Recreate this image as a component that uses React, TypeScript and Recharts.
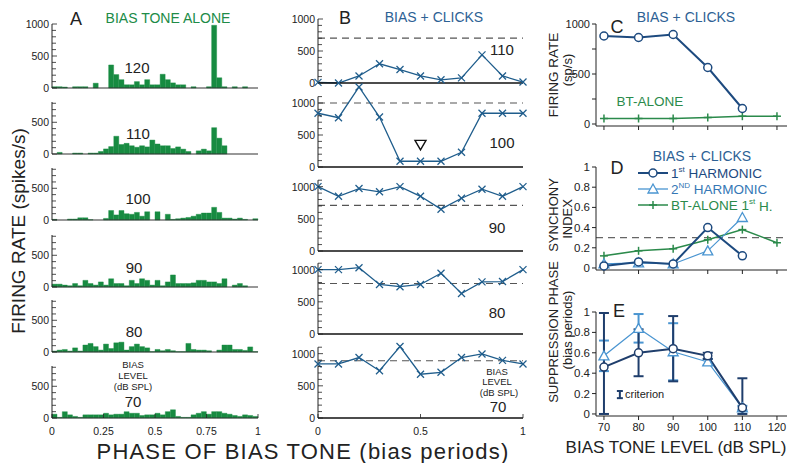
import React from 'react';
import {
  BarChart,
  Bar,
  ComposedChart,
  Line,
  Scatter,
  XAxis,
  YAxis,
  ReferenceLine,
  ReferenceDot,
  ErrorBar,
} from 'recharts';

const FONT = '"Liberation Sans", Arial, Helvetica, sans-serif';
const INK = '#222';
const GREEN = '#178b41';
const GREEN_TEXT = '#208b47';
const B_LINE = '#1f5d8c';
const B_TITLE = '#2c6194';
const DARK = '#1d4a7f';
const LIGHT = '#4a95d1';
const BT_GREEN = '#2b8a4b';
const NAVY = '#1f3e6c';

const PAD = 10;
const BOT = 8;
const PX = 0.064; // px per spike/s in panels A and B

// ---- A: bias tone alone, period histograms (40 bins)
const A_120 = [20, 20, 15, 0, 20, 20, 20, 0, 75, 0, 0, 360, 210, 130, 50, 50, 100, 50, 130, 50, 50, 215, 130, 80, 50, 50, 0, 20, 0, 0, 20, 980, 160, 20, 0, 20, 0, 20, 0, 0];
const A_110 = [0, 25, 0, 0, 15, 15, 0, 15, 15, 40, 80, 117, 280, 150, 168, 130, 107, 130, 112, 220, 158, 130, 130, 87, 112, 77, 40, 0, 50, 77, 50, 415, 250, 130, 0, 0, 0, 0, 0, 0];
const A_100 = [10, 0, 0, 15, 15, 35, 35, 5, 0, 0, 25, 150, 80, 150, 100, 90, 120, 60, 130, 0, 130, 0, 90, 10, 20, 30, 40, 60, 90, 110, 110, 200, 120, 30, 30, 15, 30, 10, 0, 20];
const A_90 = [45, 45, 30, 20, 55, 20, 105, 55, 30, 80, 30, 130, 55, 55, 20, 105, 55, 130, 105, 30, 105, 20, 80, 190, 55, 55, 55, 65, 105, 105, 80, 80, 55, 130, 0, 30, 55, 20, 0, 0];
const A_80 = [15, 30, 40, 15, 65, 15, 110, 135, 85, 30, 125, 55, 145, 155, 30, 85, 125, 85, 65, 5, 40, 20, 40, 20, 5, 5, 135, 40, 30, 30, 20, 0, 30, 110, 110, 40, 40, 25, 80, 5];
const A_70 = [60, 10, 100, 50, 25, 10, 50, 50, 50, 50, 75, 50, 60, 60, 100, 75, 75, 40, 50, 50, 75, 50, 100, 130, 25, 10, 10, 50, 75, 100, 60, 100, 100, 75, 60, 40, 25, 50, 40, 25];
const PHASE_BINS = A_120.map((_, i) => (i + 0.5) / 40);
const A_PHASE_TICKS = [0, 0.25, 0.5, 0.75, 1];
const TICKS_800 = [0, 100, 200, 300, 400, 500, 600, 700, 800];
const TICKS_1000 = [0, 100, 200, 300, 400, 500, 600, 700, 800, 900, 1000];
const TICKS_1100 = [0, 100, 200, 300, 400, 500, 600, 700, 800, 900, 1000, 1100];

// ---- B: bias + clicks, rate vs click phase
const B_PHASE = [0, 0.1, 0.2, 0.3, 0.4, 0.5, 0.6, 0.7, 0.8, 0.9, 1];
const B_PHASE_TICKS = [0, 0.5, 1];
const B_110 = [10, 0, 110, 300, 210, 110, 50, 80, 440, 110, 15];
const B_100 = [840, 770, 1250, 780, 90, 90, 90, 230, 840, 840, 840];
const B_90 = [1000, 850, 970, 920, 1000, 850, 650, 820, 960, 850, 1000];
const B_80 = [1000, 1000, 1030, 770, 735, 770, 945, 630, 810, 815, 1000];
const B_70 = [840, 840, 940, 735, 1110, 680, 710, 940, 995, 895, 840];
// clicks-alone reference rates (dashed lines), 110..70
const B_REF = [700, 1000, 710, 785, 890];

// ---- C/D/E: vs bias tone level
const LEVELS = [70, 80, 90, 100, 110, 120];
const LEVEL_TICKS = [70, 80, 90, 100, 110, 120];
const X_DOMAIN = [67.7, 122.9];
const C_CLICKS = [880, 865, 895, 565, 155, null];
const C_BT = [55, 55, 55, 65, 78, 78];
const D_H1 = [0.02, 0.06, 0.04, 0.4, 0.12, null];
const D_H2 = [0.04, 0.05, 0.04, 0.17, 0.5, null];
const D_BT = [0.12, 0.17, 0.19, 0.28, 0.38, 0.25];
const D_CRIT = 0.3;
const E_LEVELS = [70, 80, 90, 100, 110];
const E_H1 = [0.46, 0.6, 0.64, 0.57, 0.06];
const E_H1_ERR = [[0.46, 0.53], [0.23, 0.23], [0.32, 0.32], [0.03, 0.03], [0.06, 0.29]];
const E_H2 = [0.57, 0.84, 0.61, 0.51, 0.06];
const E_H2_ERR = [[0.15, 0.15], [0.14, 0.14], [0.28, 0.28], [0.03, 0.03], [0.02, 0.02]];
const E_CRIT = [{ level: 74.6, value: 0.19, err: 0.035 }];
const UNIT_TICKS = [0, 0.2, 0.4, 0.6, 0.8, 1];

// ticks drawn inside the axis, labels every 500
const RateTick = ({ x, y, payload }: any) => {
  const v = payload.value;
  const major = v % 500 === 0;
  return (
    <g>
      <line x1={x} x2={x + (major ? 5 : 4)} y1={y} y2={y} stroke={INK} strokeWidth={0.8} />
      {major && (
        <text x={x - 3} y={y + 4} textAnchor="end" fontSize={10.5} fill={INK}>
          {v}
        </text>
      )}
    </g>
  );
};

const PhaseTick = ({ x, y, payload }: any) => (
  <g>
    <line x1={x} x2={x} y1={y} y2={y - 4} stroke={INK} strokeWidth={0.8} />
    <text x={x} y={y + 17} textAnchor="middle" fontSize={10.5} fill={INK}>
      {payload.value}
    </text>
  </g>
);

const NoLabel = () => <g />;

const CTick = ({ x, y, payload }: any) =>
  payload.value % 500 === 0 ? (
    <text x={x} y={y + 4} textAnchor="end" fontSize={11} fill={INK}>
      {payload.value}
    </text>
  ) : (
    <g />
  );

const XMark = ({ cx, cy }: any) =>
  cx == null || cy == null ? null : (
    <g stroke={B_LINE} strokeWidth={1.3}>
      <line x1={cx - 3.5} y1={cy - 3.5} x2={cx + 3.5} y2={cy + 3.5} />
      <line x1={cx - 3.5} y1={cy + 3.5} x2={cx + 3.5} y2={cy - 3.5} />
    </g>
  );

const TriMark = ({ cx, cy, color }: any) =>
  cx == null || cy == null ? null : (
    <polygon
      points={`${cx},${cy - 5} ${cx - 5},${cy + 4} ${cx + 5},${cy + 4}`}
      fill="#fff"
      stroke={color}
      strokeWidth={1.3}
    />
  );

const CircleMark = ({ cx, cy, color }: any) =>
  cx == null || cy == null ? null : (
    <circle cx={cx} cy={cy} r={4} fill="#fff" stroke={color} strokeWidth={1.5} />
  );

const PlusMark = ({ cx, cy, color }: any) =>
  cx == null || cy == null ? null : (
    <g stroke={color} strokeWidth={1.5}>
      <line x1={cx - 4} x2={cx + 4} y1={cy} y2={cy} />
      <line x1={cx} x2={cx} y1={cy - 4} y2={cy + 4} />
    </g>
  );

const DownTri = ({ cx, cy }: any) => (
  <polygon
    points={`${cx - 5.5},${cy - 4.5} ${cx + 5.5},${cy - 4.5} ${cx},${cy + 5}`}
    fill="none"
    stroke="#111"
    strokeWidth={1.4}
  />
);

function Hist({ values, base, max, ticks, last = false }: any) {
  const plotH = Math.round(max * PX);
  const xH = last ? 24 : 1;
  const data = PHASE_BINS.map((phase, i) => ({ phase, rate: values[i] }));
  return (
    <div style={{ position: 'absolute', left: 0, top: base - plotH - PAD }}>
      <BarChart
        width={52 + 206 + PAD}
        height={PAD + plotH + xH + BOT}
        data={data}
        margin={{ top: PAD, right: PAD, bottom: BOT, left: 0 }}
        barCategoryGap={0}
        barGap={0}
      >
        <XAxis
          type="number"
          dataKey="phase"
          domain={[0, 1]}
          ticks={A_PHASE_TICKS}
          interval={0}
          height={xH}
          axisLine={{ stroke: '#333', strokeWidth: 1.2 }}
          tickLine={false}
          tickSize={0}
          tickMargin={0}
          tick={last ? <PhaseTick /> : false}
        />
        <YAxis
          type="number"
          domain={[0, max]}
          ticks={ticks}
          interval={0}
          width={52}
          tickSize={0}
          tickMargin={0}
          tickLine={false}
          axisLine={{ stroke: INK }}
          tick={<RateTick />}
        />
        <Bar dataKey="rate" fill={GREEN} stroke={GREEN} strokeWidth={0.4} isAnimationActive={false} />
      </BarChart>
    </div>
  );
}

function PhasePlot({ values, base, max, axisTop, ticks, refRate, last = false, children }: any) {
  const plotH = Math.round(max * PX);
  const xH = last ? 24 : 1;
  const data = B_PHASE.map((phase, i) => ({ phase, rate: values[i] }));
  return (
    <div style={{ position: 'absolute', left: 318 - 50, top: base - plotH - PAD }}>
      <ComposedChart
        width={50 + 205 + PAD}
        height={PAD + plotH + xH + BOT}
        data={data}
        margin={{ top: PAD, right: PAD, bottom: BOT, left: 0 }}
      >
        <XAxis
          type="number"
          dataKey="phase"
          domain={[0, 1]}
          ticks={B_PHASE_TICKS}
          interval={0}
          height={xH}
          axisLine={{ stroke: '#111', strokeWidth: 1.3 }}
          tickLine={false}
          tickSize={0}
          tickMargin={0}
          tick={last ? <PhaseTick /> : false}
        />
        <YAxis
          type="number"
          domain={[0, max]}
          ticks={ticks}
          interval={0}
          width={50}
          tickSize={0}
          tickMargin={0}
          tickLine={false}
          axisLine={false}
          tick={<RateTick />}
        />
        <ReferenceLine segment={[{ x: 0, y: 0 }, { x: 0, y: axisTop }]} stroke={INK} />
        <ReferenceLine y={refRate} stroke="#555" strokeWidth={1.2} strokeDasharray="7 5" />
        <Line
          type="linear"
          dataKey="rate"
          stroke={B_LINE}
          strokeWidth={1.3}
          dot={<XMark />}
          isAnimationActive={false}
        />
        {children}
      </ComposedChart>
    </div>
  );
}

function PanelC() {
  const data = LEVELS.map((level, i) => ({ level, clicks: C_CLICKS[i], alone: C_BT[i] }));
  return (
    <div style={{ position: 'absolute', left: 596 - 45, top: 24 - PAD }}>
      <ComposedChart width={45 + 191 + PAD} height={PAD + 102 + 6 + BOT} data={data} margin={{ top: PAD, right: PAD, bottom: BOT, left: 0 }}>
        <XAxis type="number" dataKey="level" domain={X_DOMAIN} ticks={LEVEL_TICKS} interval={0} height={6}
          axisLine={{ stroke: INK }} tickLine={{ stroke: INK }} tickSize={4} tick={<NoLabel />} />
        <YAxis type="number" domain={[-20, 1000]} ticks={[0, 250, 500, 750, 1000]} interval={0} width={45}
          axisLine={{ stroke: INK }} tickLine={{ stroke: INK }} tickSize={4} tickMargin={2} tick={<CTick />} />
        <Line dataKey="alone" stroke={BT_GREEN} strokeWidth={1.5} dot={<PlusMark color={BT_GREEN} />} isAnimationActive={false} />
        <Line dataKey="clicks" stroke={DARK} strokeWidth={2} dot={<CircleMark color={DARK} />} isAnimationActive={false} />
      </ComposedChart>
    </div>
  );
}

function PanelD() {
  const data = LEVELS.map((level, i) => ({ level, h1: D_H1[i], h2: D_H2[i], bt: D_BT[i] }));
  return (
    <div style={{ position: 'absolute', left: 596 - 45, top: 167 - PAD }}>
      <ComposedChart width={45 + 191 + PAD} height={PAD + 103 + 6 + BOT} data={data} margin={{ top: PAD, right: PAD, bottom: BOT, left: 0 }}>
        <XAxis type="number" dataKey="level" domain={X_DOMAIN} ticks={LEVEL_TICKS} interval={0} height={6}
          axisLine={{ stroke: INK }} tickLine={{ stroke: INK }} tickSize={4} tick={<NoLabel />} />
        <YAxis type="number" domain={[-0.02, 1]} ticks={UNIT_TICKS} interval={0} width={45}
          axisLine={{ stroke: INK }} tickLine={{ stroke: INK }} tickSize={4} tickMargin={2}
          tick={{ fontSize: 11.5, fill: INK }} />
        <ReferenceLine y={D_CRIT} stroke="#666" strokeWidth={1.2} strokeDasharray="7 5" />
        <Line dataKey="bt" stroke={BT_GREEN} strokeWidth={1.5} dot={<PlusMark color={BT_GREEN} />} isAnimationActive={false} />
        <Line dataKey="h2" stroke={LIGHT} strokeWidth={1.2} dot={<TriMark color={LIGHT} />} isAnimationActive={false} />
        <Line dataKey="h1" stroke={DARK} strokeWidth={2} dot={<CircleMark color={DARK} />} isAnimationActive={false} />
      </ComposedChart>
    </div>
  );
}

function PanelE() {
  const data = E_LEVELS.map((level, i) => ({
    level,
    h1: E_H1[i],
    e1: E_H1_ERR[i],
    h2: E_H2[i],
    e2: E_H2_ERR[i],
  }));
  return (
    <div style={{ position: 'absolute', left: 596 - 45, top: 312 - PAD }}>
      <ComposedChart width={45 + 191 + PAD} height={PAD + 104 + 22} data={data} margin={{ top: PAD, right: PAD, bottom: 0, left: 0 }}>
        <XAxis type="number" dataKey="level" domain={X_DOMAIN} ticks={LEVEL_TICKS} interval={0} height={22}
          axisLine={{ stroke: INK }} tickLine={{ stroke: INK }} tickSize={4} tickMargin={3}
          tick={{ fontSize: 11, fill: INK }} />
        <YAxis type="number" domain={[-0.02, 1]} ticks={UNIT_TICKS} interval={0} width={45}
          axisLine={{ stroke: INK }} tickLine={{ stroke: INK }} tickSize={4} tickMargin={2}
          tick={{ fontSize: 11.5, fill: INK }} />
        <Line dataKey="h2" stroke={LIGHT} strokeWidth={1.3} dot={<TriMark color={LIGHT} />} isAnimationActive={false}>
          <ErrorBar dataKey="e2" direction="y" width={5} stroke={LIGHT} strokeWidth={2} />
        </Line>
        <Line dataKey="h1" stroke={NAVY} strokeWidth={2} dot={<CircleMark color={NAVY} />} isAnimationActive={false}>
          <ErrorBar dataKey="e1" direction="y" width={5} stroke={NAVY} strokeWidth={2} />
        </Line>
        <Scatter data={E_CRIT} dataKey="value" shape={<NoLabel />} isAnimationActive={false}>
          <ErrorBar dataKey="err" direction="y" width={3} stroke={NAVY} strokeWidth={2} />
        </Scatter>
      </ComposedChart>
    </div>
  );
}

function Rot({ x, y, size, children, fill = INK }: any) {
  return (
    <text transform={`translate(${x},${y}) rotate(-90)`} textAnchor="middle" dominantBaseline="central" fontSize={size} fill={fill}>
      {children}
    </text>
  );
}

function T({ x, y, size, children, fill = INK, anchor = 'middle', spacing }: any) {
  return (
    <text x={x} y={y} textAnchor={anchor} dominantBaseline="central" fontSize={size} fill={fill} letterSpacing={spacing}>
      {children}
    </text>
  );
}

function Labels() {
  return (
    <svg width={800} height={463} style={{ position: 'absolute', left: 0, top: 0, pointerEvents: 'none' }} fontFamily={FONT}>
      {/* A */}
      <T x={76} y={19} size={18}>A</T>
      <T x={168} y={18} size={14} fill={GREEN_TEXT}>BIAS TONE ALONE</T>
      <T x={137} y={67} size={15}>120</T>
      <T x={138} y={133} size={15}>110</T>
      <T x={138} y={198} size={15}>100</T>
      <T x={134} y={267} size={15}>90</T>
      <T x={134} y={331} size={15}>80</T>
      <T x={133} y={364.5} size={9.5}>BIAS</T>
      <T x={133} y={375.5} size={9.5}>LEVEL</T>
      <T x={133} y={386.5} size={9.5}>(dB SPL)</T>
      <T x={133} y={401} size={15}>70</T>
      <Rot x={18} y={231} size={19}>FIRING RATE (spikes/s)</Rot>
      <T x={303} y={451} size={22} spacing={1.2}>PHASE OF BIAS TONE (bias periods)</T>
      {/* B */}
      <T x={345} y={18} size={18}>B</T>
      <T x={434} y={17} size={14} fill={B_TITLE}>BIAS + CLICKS</T>
      <T x={502} y={49} size={15}>110</T>
      <T x={502} y={142} size={15}>100</T>
      <T x={497} y={227} size={15}>90</T>
      <T x={497} y={312} size={15}>80</T>
      <T x={497} y={371} size={9.5}>BIAS</T>
      <T x={497} y={381.5} size={9.5}>LEVEL</T>
      <T x={499} y={392} size={9.5}>(dB SPL)</T>
      <T x={498} y={406} size={15}>70</T>
      {/* C */}
      <T x={617} y={27} size={18}>C</T>
      <T x={686} y={17} size={14} fill={B_TITLE}>BIAS + CLICKS</T>
      <T x={650} y={101} size={13.5} fill={BT_GREEN}>BT-ALONE</T>
      <Rot x={553} y={75} size={13.5}>FIRING RATE</Rot>
      <Rot x={567} y={70} size={13}>(sp/s)</Rot>
      {/* D */}
      <T x={617} y={168} size={18}>D</T>
      <T x={702} y={156} size={14} fill={B_TITLE}>BIAS + CLICKS</T>
      <line x1={638} x2={668} y1={173} y2={173} stroke={DARK} strokeWidth={2} />
      <CircleMark cx={653} cy={173} color={DARK} />
      <text x={671} y={173} dominantBaseline="central" fontSize={13.5} fill={DARK}>
        1<tspan dy={-4.5} fontSize={8}>st</tspan>
        <tspan dy={4.5}> HARMONIC</tspan>
      </text>
      <line x1={638} x2={668} y1={189} y2={189} stroke={LIGHT} strokeWidth={1.3} />
      <TriMark cx={653} cy={189} color={LIGHT} />
      <text x={671} y={189} dominantBaseline="central" fontSize={13.5} fill="#3577b5">
        2<tspan dy={-4.5} fontSize={8}>ND</tspan>
        <tspan dy={4.5}> HARMONIC</tspan>
      </text>
      <line x1={638} x2={668} y1={205} y2={205} stroke={BT_GREEN} strokeWidth={1.5} />
      <PlusMark cx={653} cy={205} color={BT_GREEN} />
      <text x={671} y={205.5} dominantBaseline="central" fontSize={13.5} fill={BT_GREEN}>
        BT-ALONE 1<tspan dy={-4.5} fontSize={8}>st</tspan>
        <tspan dy={4.5}> H.</tspan>
      </text>
      <Rot x={553} y={215} size={13}>SYNCHONY</Rot>
      <Rot x={567} y={219} size={13}>INDEX</Rot>
      {/* E */}
      <T x={619} y={311} size={18}>E</T>
      <T x={625} y={394} size={11} anchor="start">criterion</T>
      <Rot x={553} y={332} size={13}>SUPPRESSION PHASE</Rot>
      <Rot x={567} y={330} size={13}>(bias periods)</Rot>
      <T x={676} y={447} size={17}>BIAS TONE LEVEL (dB SPL)</T>
    </svg>
  );
}

export default function App() {
  return (
    <div style={{ position: 'absolute', left: 0, top: 0, width: 800, height: 463, background: '#fff', fontFamily: FONT, overflow: 'hidden' }}>
      <Hist values={A_120} base={88} max={1000} ticks={TICKS_1000} />
      <Hist values={A_110} base={154} max={820} ticks={TICKS_800} />
      <Hist values={A_100} base={220} max={820} ticks={TICKS_800} />
      <Hist values={A_90} base={287} max={820} ticks={TICKS_800} />
      <Hist values={A_80} base={352} max={820} ticks={TICKS_800} />
      <Hist values={A_70} base={418} max={820} ticks={TICKS_800} last />

      <PhasePlot values={B_110} base={83} max={1000} axisTop={1000} ticks={TICKS_1000} refRate={B_REF[0]} />
      <PhasePlot values={B_100} base={167} max={1250} axisTop={1100} ticks={TICKS_1100} refRate={B_REF[1]}>
        <ReferenceDot x={0.5} y={345} r={5} shape={<DownTri />} />
      </PhasePlot>
      <PhasePlot values={B_90} base={251} max={1150} axisTop={1100} ticks={TICKS_1100} refRate={B_REF[2]} />
      <PhasePlot values={B_80} base={334} max={1150} axisTop={1100} ticks={TICKS_1100} refRate={B_REF[3]} />
      <PhasePlot values={B_70} base={418} max={1150} axisTop={1100} ticks={TICKS_1100} refRate={B_REF[4]} last />

      <PanelC />
      <PanelD />
      <PanelE />
      <Labels />
    </div>
  );
}
